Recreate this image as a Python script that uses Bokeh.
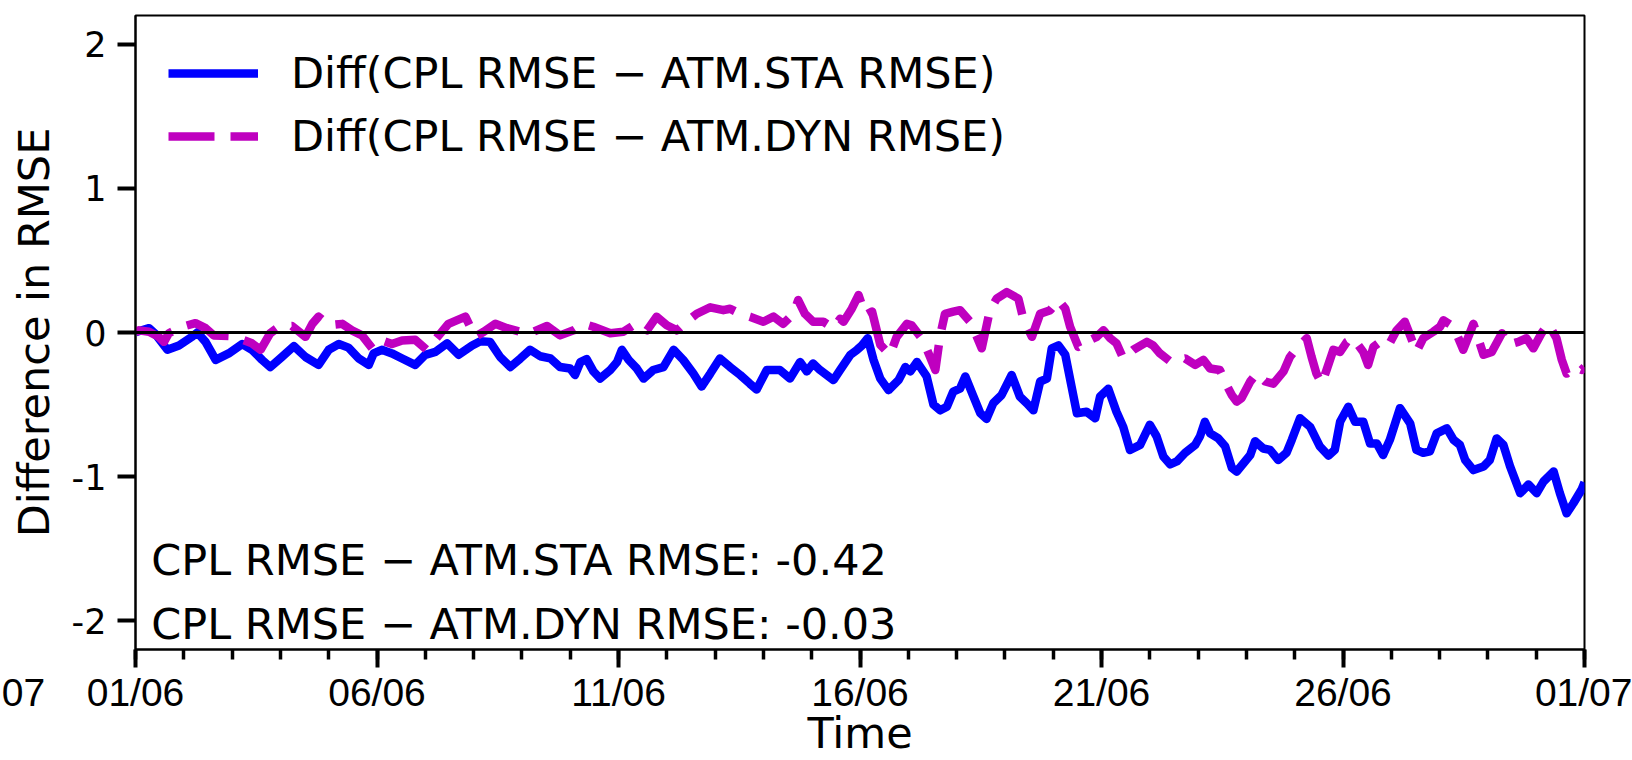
import pandas as pd
from bokeh.plotting import figure
from bokeh.models import (Range1d, FixedTicker, DatetimeTickFormatter, Span, Label,
                          Legend, LegendItem, ColumnDataSource)
from bokeh.embed import file_html
from bokeh.resources import INLINE

start = pd.Timestamp("2019-06-01")

# ---- data (days since 01/06, value) ----
sta_days = [0.00, 0.03, 0.28, 0.41, 0.66, 0.90, 1.17, 1.28, 1.45, 1.66, 1.93, 2.21, 2.41, 2.62, 2.79,
            3.03, 3.28, 3.52, 3.79, 4.00, 4.21, 4.41, 4.62, 4.83, 4.93, 5.10, 5.31, 5.52, 5.79, 6.00,
            6.21, 6.45, 6.69, 6.97, 7.14, 7.34, 7.55, 7.76, 7.97, 8.17, 8.38, 8.59, 8.79, 9.00, 9.10,
            9.21, 9.34, 9.48, 9.62, 9.83, 9.97, 10.07, 10.21, 10.38, 10.52, 10.72, 10.93, 11.14, 11.34,
            11.55, 11.72, 11.90, 12.10, 12.31, 12.52, 12.72, 12.86, 13.07, 13.34, 13.55, 13.76, 13.90,
            14.03, 14.17, 14.45, 14.59, 14.80, 14.94, 15.04, 15.16, 15.28, 15.42, 15.59, 15.80, 15.94,
            16.04, 16.18, 16.38, 16.52, 16.66, 16.80, 16.93, 17.07, 17.18, 17.35, 17.49, 17.62, 17.76,
            17.93, 18.14, 18.31, 18.45, 18.59, 18.73, 18.87, 18.97, 19.11, 19.25, 19.38, 19.49, 19.69,
            19.87, 19.97, 20.14, 20.31, 20.45, 20.59, 20.80, 21.00, 21.14, 21.28, 21.42, 21.56, 21.73,
            21.94, 22.04, 22.14, 22.25, 22.42, 22.56, 22.70, 22.80, 22.97, 23.08, 23.18, 23.35, 23.49,
            23.66, 23.83, 23.94, 24.11, 24.32, 24.52, 24.70, 24.83, 24.94, 25.11, 25.25, 25.42, 25.56,
            25.70, 25.83, 25.97, 26.18, 26.39, 26.52, 26.66, 26.80, 26.94, 27.15, 27.29, 27.42, 27.53,
            27.70, 27.91, 28.04, 28.18, 28.32, 28.46, 28.67, 28.84, 29.01, 29.15, 29.36, 29.49, 29.63,
            29.77, 29.94, 30.00]
sta_diff = [0.00, 0.005, 0.03, -0.01, -0.12, -0.09, -0.03, 0.00, -0.065, -0.19, -0.145, -0.08, -0.12,
            -0.19, -0.24, -0.17, -0.095, -0.17, -0.225, -0.12, -0.08, -0.105, -0.18, -0.225, -0.145,
            -0.12, -0.145, -0.18, -0.225, -0.155, -0.135, -0.075, -0.155, -0.09, -0.06, -0.065, -0.17,
            -0.24, -0.18, -0.12, -0.165, -0.18, -0.24, -0.25, -0.295, -0.205, -0.185, -0.27, -0.32,
            -0.26, -0.205, -0.12, -0.19, -0.25, -0.32, -0.26, -0.24, -0.12, -0.19, -0.285, -0.375,
            -0.285, -0.18, -0.24, -0.295, -0.355, -0.395, -0.26, -0.26, -0.32, -0.205, -0.27, -0.215,
            -0.26, -0.33, -0.26, -0.155, -0.12, -0.09, -0.04, -0.19, -0.32, -0.40, -0.33, -0.24, -0.27,
            -0.205, -0.305, -0.50, -0.54, -0.515, -0.41, -0.39, -0.305, -0.445, -0.56, -0.60, -0.49,
            -0.435, -0.295, -0.445, -0.49, -0.54, -0.34, -0.32, -0.11, -0.09, -0.155, -0.375, -0.56,
            -0.55, -0.595, -0.445, -0.39, -0.55, -0.655, -0.815, -0.78, -0.64, -0.72, -0.86, -0.915,
            -0.895, -0.835, -0.78, -0.72, -0.62, -0.70, -0.735, -0.79, -0.94, -0.965, -0.895, -0.85,
            -0.755, -0.805, -0.815, -0.885, -0.835, -0.745, -0.595, -0.655, -0.79, -0.855, -0.815,
            -0.62, -0.515, -0.62, -0.62, -0.77, -0.77, -0.85, -0.745, -0.525, -0.63, -0.815, -0.835,
            -0.825, -0.70, -0.665, -0.745, -0.78, -0.885, -0.955, -0.93, -0.885, -0.735, -0.78, -0.93,
            -1.115, -1.055, -1.115, -1.035, -0.965, -1.115, -1.255, -1.185, -1.09, -1.04]

dyn_days = [0.00, 0.07, 0.28, 0.48, 0.59, 0.69, 0.97, 1.24, 1.45, 1.62, 1.93, 2.21, 2.41, 2.59, 2.79,
            2.97, 3.24, 3.52, 3.66, 3.79, 4.00, 4.28, 4.48, 4.69, 4.90, 5.10, 5.31, 5.52, 5.79, 6.03,
            6.28, 6.48, 6.83, 7.03, 7.21, 7.45, 7.69, 7.97, 8.17, 8.52, 8.79, 9.07, 9.28, 9.48, 9.83,
            10.10, 10.31, 10.59, 10.79, 11.00, 11.21, 11.41, 11.62, 11.90, 12.17, 12.31, 12.52, 12.72,
            13.00, 13.21, 13.41, 13.62, 13.72, 13.86, 14.03, 14.24, 14.45, 14.59, 14.66, 14.83, 14.97,
            15.11, 15.25, 15.42, 15.62, 15.76, 15.97, 16.07, 16.31, 16.45, 16.56, 16.66, 16.76, 16.93,
            17.07, 17.28, 17.42, 17.52, 17.69, 17.83, 18.04, 18.28, 18.38, 18.56, 18.73, 18.94, 19.11,
            19.25, 19.35, 19.52, 19.69, 19.90, 20.04, 20.18, 20.31, 20.45, 20.66, 20.94, 21.07, 21.21,
            21.42, 21.73, 21.94, 22.11, 22.25, 22.45, 22.59, 22.70, 22.80, 22.90, 23.08, 23.21, 23.39,
            23.56, 23.77, 23.90, 24.04, 24.25, 24.35, 24.45, 24.56, 24.66, 24.80, 24.94, 25.08, 25.21,
            25.42, 25.52, 25.63, 25.77, 25.94, 26.11, 26.28, 26.39, 26.52, 26.66, 26.87, 27.01, 27.08,
            27.29, 27.49, 27.70, 27.91, 28.08, 28.29, 28.42, 28.63, 28.80, 28.94, 29.11, 29.25, 29.42,
            29.53, 29.63, 29.80, 29.94, 30.00]
dyn_diff = [0.00, 0.015, 0.005, -0.03, -0.065, -0.005, 0.04, 0.065, 0.03, -0.02, -0.025, -0.05, -0.075,
            -0.12, -0.005, 0.04, 0.045, -0.03, 0.06, 0.11, 0.05, 0.06, 0.015, -0.02, -0.11, -0.055,
            -0.08, -0.055, -0.05, -0.12, -0.02, 0.06, 0.11, -0.03, 0.005, 0.06, 0.03, 0.005, -0.005,
            0.045, -0.02, 0.015, 0.06, 0.04, -0.005, 0.005, 0.05, 0.015, 0.11, 0.05, 0.015, 0.075,
            0.13, 0.175, 0.155, 0.165, 0.13, 0.11, 0.075, 0.11, 0.06, 0.13, 0.225, 0.13, 0.075, 0.075,
            0.03, 0.095, 0.075, 0.165, 0.26, 0.12, 0.145, -0.085, -0.155, -0.03, 0.06, 0.05, -0.055,
            -0.17, -0.26, -0.02, 0.13, 0.145, 0.155, 0.075, -0.03, -0.11, 0.155, 0.235, 0.28, 0.235,
            0.095, -0.03, 0.13, 0.155, 0.225, 0.165, 0.04, -0.10, -0.065, -0.03, 0.015, -0.04, -0.075,
            -0.18, -0.12, -0.065, -0.09, -0.145, -0.20, -0.18, -0.225, -0.19, -0.25, -0.26, -0.365,
            -0.435, -0.48, -0.455, -0.34, -0.285, -0.34, -0.355, -0.27, -0.17, -0.11, -0.04, -0.17,
            -0.285, -0.355, -0.26, -0.12, -0.135, -0.065, -0.04, -0.135, -0.225, -0.10, -0.065, -0.09,
            0.015, 0.075, -0.02, -0.135, -0.04, 0.005, 0.04, 0.085, 0.04, -0.12, 0.06, -0.155, -0.135,
            -0.005, -0.085, -0.065, -0.04, -0.11, -0.005, 0.06, -0.04, -0.19, -0.285, -0.24, -0.26,
            -0.24]

major_tick_days = [0, 5, 10, 15, 20, 25, 30]
minor_tick_days = list(range(0, 31))
y_ticks = [-2, -1, 0, 1, 2]
legend_labels = ["Diff(CPL RMSE \u2212 ATM.STA RMSE)", "Diff(CPL RMSE \u2212 ATM.DYN RMSE)"]
summary_texts = ["CPL RMSE \u2212 ATM.STA RMSE: -0.42", "CPL RMSE \u2212 ATM.DYN RMSE: -0.03"]
summary_y = [-1.58, -2.02]
stray_label = "07"

TXT = "43px"


def to_ms(days):
    return [(start + pd.Timedelta(days=d)).value / 1e6 for d in days]


def to_ts(days):
    return [start + pd.Timedelta(days=d) for d in days]


src_sta = ColumnDataSource(dict(t=to_ts(sta_days), v=sta_diff))
src_dyn = ColumnDataSource(dict(t=to_ts(dyn_days), v=dyn_diff))

p = figure(width=1632, height=760, x_axis_type="datetime",
           x_range=Range1d(to_ms([0])[0], to_ms([30])[0]), y_range=Range1d(-2.2, 2.2),
           output_backend="svg", toolbar_location=None,
           min_border_left=135, min_border_right=48, min_border_top=15, min_border_bottom=110)
p.xgrid.visible = False
p.ygrid.visible = False
p.outline_line_color = "black"
p.outline_line_width = 2
p.background_fill_color = "white"
p.border_fill_color = "white"

xa = p.xaxis[0]
xa.ticker = FixedTicker(ticks=to_ms(major_tick_days), minor_ticks=to_ms(minor_tick_days))
fmt = "%d/%m"
xa.formatter = DatetimeTickFormatter(days=fmt, months=fmt, hours=fmt, hourmin=fmt, years=fmt,
                                     minutes=fmt, seconds=fmt, minsec=fmt, milliseconds=fmt,
                                     microseconds=fmt)
xa.axis_label = "Time"
xa.axis_label_text_font = "DejaVu Sans"
xa.axis_label_text_font_size = TXT
xa.axis_label_text_font_style = "normal"
xa.axis_label_text_color = "black"
xa.major_label_text_font = "Liberation Sans"
xa.major_label_text_font_size = "39px"
xa.major_label_text_color = "black"
xa.major_tick_in = 0
xa.major_tick_out = 18
xa.minor_tick_in = 0
xa.minor_tick_out = 10
xa.major_tick_line_width = 4
xa.minor_tick_line_width = 3.5
xa.major_tick_line_color = "black"
xa.minor_tick_line_color = "black"
xa.axis_line_color = "black"
xa.axis_line_width = 2
xa.major_label_standoff = 3
xa.axis_label_standoff = -9

ya = p.yaxis[0]
ya.ticker = FixedTicker(ticks=y_ticks)
ya.major_label_overrides = {t: str(t) for t in y_ticks}
ya.axis_label = "Difference in RMSE"
ya.axis_label_text_font = "DejaVu Sans"
ya.axis_label_text_font_size = TXT
ya.axis_label_text_font_style = "normal"
ya.axis_label_text_color = "black"
ya.major_label_text_font = "DejaVu Sans"
ya.major_label_text_font_size = "35px"
ya.major_label_text_color = "black"
ya.major_tick_in = 0
ya.major_tick_out = 18
ya.major_tick_line_width = 4
ya.major_tick_line_color = "black"
ya.minor_tick_line_color = None
ya.axis_line_color = "black"
ya.axis_line_width = 2
ya.major_label_standoff = 11
ya.axis_label_standoff = 10

r_sta = p.line(x="t", y="v", source=src_sta, line_color="#0000FF", line_width=8.5,
               line_join="round")
r_dyn = p.line(x="t", y="v", source=src_dyn, line_color="#BF00BF", line_width=8.5,
               line_join="round", line_dash="46 16")

p.add_layout(Span(location=0, dimension="width", line_color="black", line_width=3))

legend = Legend(items=[LegendItem(label=legend_labels[0], renderers=[r_sta]),
                       LegendItem(label=legend_labels[1], renderers=[r_dyn])],
                location="top_left", label_text_font="DejaVu Sans", label_text_font_size=TXT,
                label_text_color="black", glyph_width=90, glyph_height=40, label_standoff=33,
                spacing=13, padding=27, margin=6, background_fill_alpha=0, border_line_alpha=0)
p.add_layout(legend)

for txt, yv in zip(summary_texts, summary_y):
    p.add_layout(Label(x=to_ms([0.325])[0], y=yv, text=txt, text_font="DejaVu Sans",
                       text_font_size=TXT, text_color="black", text_baseline="alphabetic"))

# fragment of a neighbouring panel's tick label at the far left (kept in a side panel so
# that it is not clipped to the frame)
p.add_layout(Label(x=to_ms([-1.87])[0], y=-2.50, text=stray_label, text_font="Liberation Sans",
                   text_font_size="39px", text_color="black", text_align="right",
                   text_baseline="alphabetic"), "right")

open("out.html", "w").write(file_html(p, INLINE))
